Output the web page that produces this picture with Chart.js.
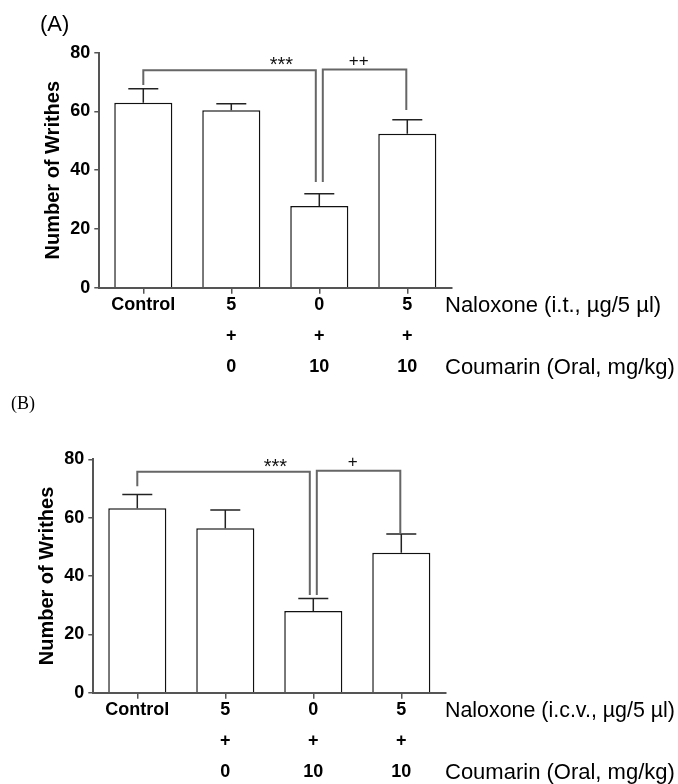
<!DOCTYPE html>
<html>
<head>
<meta charset="utf-8">
<script src="https://cdn.jsdelivr.net/npm/chart.js@4.4.1/dist/chart.umd.min.js"></script>
<style>
  body { margin: 0; background: #fff; }
  canvas { display: block; }
</style>
</head>
<body>
<canvas id="chartA" width="678" height="392"></canvas>
<canvas id="chartB" width="678" height="392"></canvas>
<script>
// categories (three rows under the x axis)
const naloxoneRow = ['Control', '5', '0', '5'];
const plusRow = ['', '+', '+', '+'];
const coumarinRow = ['', '0', '10', '10'];
const yTickValues = [0, 20, 40, 60, 80];

// panel A : naloxone i.t.
const writhesA = [63, 60.4, 27.8, 52.4];
const semA = [4.7, 2.2, 4.2, 4.8];
// panel B : naloxone i.c.v.
const writhesB = [63.2, 56.4, 28, 48];
const semB = [4.7, 6.2, 4.3, 6.4];

// significance brackets: from group, to group, level, end of left leg, end of right leg
const bracketFrom = [0, 2];
const bracketTo = [2, 3];
const bracketTopA = [74, 74.3];
const bracketLeftEndA = [69, 36];
const bracketRightEndA = [36, 60.5];
const marksA = ['***', '++'];
const bracketTopB = [75.7, 76.1];
const bracketLeftEndB = [70.8, 33.5];
const bracketRightEndB = [33.5, 54.6];
const marksB = ['***', '+'];

const naloxoneLabelA = 'Naloxone (i.t., \u00b5g/5 \u00b5l)';
const naloxoneLabelB = 'Naloxone (i.c.v., \u00b5g/5 \u00b5l)';
const coumarinLabel = 'Coumarin (Oral, mg/kg)';

const SANS = '"Liberation Sans", Arial, sans-serif';
const refGroup = 2; // coumarin alone, both brackets meet here

const extras = {
    id: 'extras',
    afterDatasetsDraw(chart, args, o) {
        const ctx = chart.ctx
        const x = chart.scales.x, y = chart.scales.y
        const area = chart.chartArea
        ctx.save()

        // error bars (SEM, upper side only)
        ctx.strokeStyle = '#222'
        ctx.lineWidth = 1.5
        o.means.forEach((m, i) => {
            const px = x.getPixelForValue(i)
            const base = y.getPixelForValue(m)
            const top = y.getPixelForValue(m + o.sem[i])
            ctx.beginPath()
            ctx.moveTo(px, base)
            ctx.lineTo(px, top)
            ctx.moveTo(px - 15, top)
            ctx.lineTo(px + 15, top)
            ctx.stroke()
        })

        // brackets
        ctx.strokeStyle = '#666'
        ctx.lineWidth = 2
        const markAt = [0.8, 0.43]
        for (let k = 0; k < bracketFrom.length; k++) {
            const xl = x.getPixelForValue(bracketFrom[k]) + (bracketFrom[k] === refGroup ? 3.5 : 0)
            const xr = x.getPixelForValue(bracketTo[k]) + (bracketTo[k] === refGroup ? -3.5 : -1)
            const yt = y.getPixelForValue(o.top[k])
            ctx.beginPath()
            ctx.moveTo(xl, y.getPixelForValue(o.leftEnd[k]))
            ctx.lineTo(xl, yt)
            ctx.lineTo(xr, yt)
            ctx.lineTo(xr, y.getPixelForValue(o.rightEnd[k]))
            ctx.stroke()

            // mark, glyph centred about 9px above the bracket
            const mark = o.marks[k]
            ctx.fillStyle = '#111'
            ctx.font = (mark[0] === '*' ? '20px ' : '17px ') + SANS
            ctx.textAlign = 'center'
            ctx.textBaseline = 'alphabetic'
            const mt = ctx.measureText(mark)
            const cy = yt - 9.2
            const baseY = cy + (mt.actualBoundingBoxAscent - mt.actualBoundingBoxDescent) / 2
            ctx.fillText(mark, xl + markAt[k] * (xr - xl), baseY)
        }

        // row captions on the right (squeezed if they would run off the page)
        ctx.fillStyle = '#000'
        ctx.font = '22px ' + SANS
        ctx.textAlign = 'left'
        ctx.textBaseline = 'middle'
        ctx.fillText(o.rowLabel, 445, area.bottom + 17.8, 230)
        ctx.fillText(coumarinLabel, 445, area.bottom + 79.8, 230)

        // panel letter
        ctx.font = o.panelFont
        ctx.fillText(o.panel, o.panelX, o.panelY)
        ctx.restore()
    }
}

function printBarChart(canvasId, valores, sem, p) {
    const miCanvas = document.getElementById(canvasId)
    const labels = naloxoneRow.map((n, i) => [n, plusRow[i], coumarinRow[i]])

    return new Chart(miCanvas, {
        type: 'bar',
        data: {
            labels: labels,
            datasets: [{
                data: valores,
                backgroundColor: '#fff',
                borderColor: '#111',
                borderWidth: 1.5,
                barPercentage: 0.66,
                categoryPercentage: 1
            }]
        },
        options: {
            responsive: false,
            animation: false,
            devicePixelRatio: 1,
            layout: {
                padding: { top: p.top, right: 678 - p.right, bottom: 0, left: 0 }
            },
            plugins: {
                legend: { display: false },
                tooltip: { enabled: false },
                extras: p.extras
            },
            scales: {
                x: {
                    grid: { drawOnChartArea: false, offset: false, tickLength: 6, color: '#555', lineWidth: 1.5 },
                    border: { color: '#555', width: 2 },
                    ticks: {
                        color: '#000',
                        autoSkip: false,
                        maxRotation: 0,
                        padding: -3.7,
                        font: { family: SANS, size: 18, weight: 'bold', lineHeight: '31px' }
                    },
                    afterFit: (s) => { s.height = 392 - p.bottom }
                },
                y: {
                    min: 0,
                    max: 80,
                    afterBuildTicks: (s) => { s.ticks = yTickValues.map(v => ({ value: v })) },
                    grid: { drawOnChartArea: false, tickLength: 5, color: '#555', lineWidth: 1.5 },
                    border: { color: '#555', width: 2 },
                    ticks: {
                        color: '#000',
                        padding: 4,
                        font: { family: SANS, size: 18, weight: 'bold' }
                    },
                    title: {
                        display: true,
                        text: 'Number of Writhes',
                        color: '#000',
                        padding: { top: p.titlePad, bottom: 0 },
                        font: { family: SANS, size: 20, weight: 'bold' }
                    },
                    afterFit: (s) => { s.width = p.left }
                }
            }
        },
        plugins: [extras]
    })
}

printBarChart('chartA', writhesA, semA, {
    top: 52.7, bottom: 287.7, left: 99.3, right: 451.3, titlePad: 41,
    extras: {
        means: writhesA, sem: semA, top: bracketTopA, leftEnd: bracketLeftEndA,
        rightEnd: bracketRightEndA, marks: marksA, rowLabel: naloxoneLabelA,
        panel: '(A)', panelFont: '22px ' + SANS, panelX: 40, panelY: 25
    }
})

printBarChart('chartB', writhesB, semB, {
    top: 67.3, bottom: 300.7, left: 93.3, right: 445.3, titlePad: 35.5,
    extras: {
        means: writhesB, sem: semB, top: bracketTopB, leftEnd: bracketLeftEndB,
        rightEnd: bracketRightEndB, marks: marksB, rowLabel: naloxoneLabelB,
        panel: '(B)', panelFont: '18px "Liberation Serif", "Times New Roman", serif', panelX: 11, panelY: 12
    }
})
</script>
</body>
</html>
